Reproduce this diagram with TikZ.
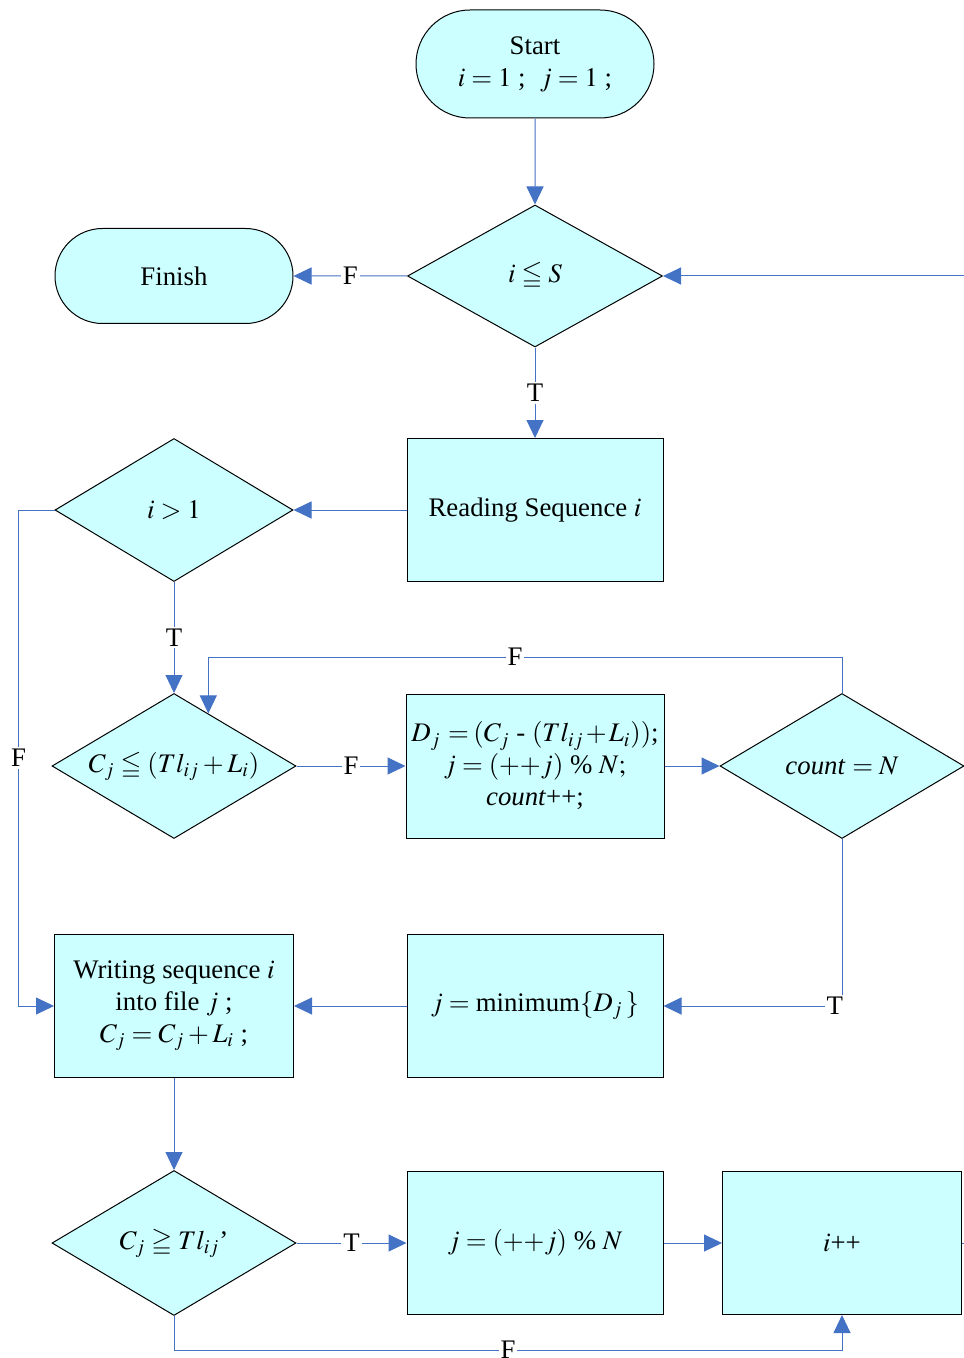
\documentclass[tikz,border=0pt]{standalone}
\usepackage{mathptmx}
\usepackage{amssymb}
\usepackage[no-math]{fontspec}
\setmainfont{Liberation Serif}
\usetikzlibrary{positioning, calc, shapes.geometric, shapes.misc, arrows.meta}
\definecolor{boxfill}{HTML}{CCFFFF}
\definecolor{linkblue}{HTML}{4472C4}
\tikzstyle{base} = [draw=black, line width=0.5pt, fill=boxfill, align=center, text centered,
 inner sep=0pt, font=\fontsize{13.4pt}{16pt}\selectfont]
\tikzstyle{terminal} = [base, rounded rectangle, minimum width=119pt]
\tikzstyle{decision} = [base, diamond, aspect=1.7, minimum width=122pt, minimum height=72.5pt]
\tikzstyle{process} = [base, rectangle, minimum width=128pt, minimum height=71.5pt]
\tikzstyle{arrow} = [draw=linkblue, line width=0.5pt, -{Triangle[length=9pt, width=8.5pt]}]
\tikzstyle{cond} = [fill=white, inner sep=1pt, font=\fontsize{13.4pt}{16pt}\selectfont]

\begin{document}
\begin{tikzpicture}[x=0.5pt, y=-0.5pt, node distance=2em, on grid]

\useasboundingbox (0,0) rectangle (963,1358);

\node (START) [terminal, minimum height=54pt] at (535,64) {Start\\$i = 1$ ;\; $j = 1$ ;};
\node (LEQS) [decision, minimum width=127.5pt, minimum height=71pt, below=106pt of START] {$i \leqq S$};
\node (FINISH) [terminal, minimum height=47.5pt, left=180.5pt of LEQS] {Finish};
\node (READ) [process, below=117pt of LEQS] {Reading Sequence $i$};
\node (IGT) [decision, minimum width=119pt, minimum height=71.5pt, left=180.5pt of READ] {$i > 1$};
\node (CLEQ) [decision, below=128pt of IGT] {$C_j \leqq (Tl_{ij} + L_i)$};
\node (DJ) [process, minimum width=129pt, minimum height=72pt, right=180.5pt of CLEQ]
    {\medmuskip=1.5mu \thickmuskip=3mu
     $D_j\,=(C_j$ - $(Tl_{ij} + L_i))$;\\$j = ({+}{+}j)$ \% $N;$\\\textit{count}++;};
\node (COUNT) [decision, right=153.5pt of DJ] {\textit{count} $= N$};
\node (WRITE) [process, minimum width=119.5pt, below=120pt of CLEQ]
    {Writing sequence $i$\\into file $j$ ;\\$C_j = C_j + L_i$ ;};
\node (JMIN) [process, right=180.5pt of WRITE] {$j = {}$minimum$\{D_j\,\}$};
\node (CGEQ) [decision, below=118.5pt of WRITE] {$C_j \geqq Tl_{ij}$’};
\node (JNEXT) [process, right=180.5pt of CGEQ] {$j = ({+}{+}j)$ \% $N$};
\node (INEXT) [process, minimum width=119.5pt, right=153.5pt of JNEXT] {$i$++};

\draw [arrow] (START) -- (LEQS);
\draw [arrow] (LEQS) -- node[cond]{F} (FINISH);
\draw [arrow] (LEQS) -- node[cond]{T} (READ);
\draw [arrow] (READ) -- (IGT);
\draw [arrow] (IGT) -- node[cond]{T} (CLEQ);
\draw [arrow] (IGT.west) -- ++(-18pt,0) |- node[cond, pos=0.25]{F} (WRITE.west);
\draw [arrow] (CLEQ) -- node[cond]{F} (DJ);
\draw [arrow] (DJ) -- (COUNT);
\draw [arrow] (COUNT.north) -- ++(0,18pt) -| node[cond, pos=0.258]{F}
    ($(CLEQ.north)!0.28!(CLEQ.east)$);
\draw [arrow] (COUNT.south) |- node[cond, pos=0.52]{T} (JMIN.east);
\draw [arrow] (JMIN) -- (WRITE);
\draw [arrow] (WRITE) -- (CGEQ);
\draw [arrow] (CGEQ) -- node[cond]{T} (JNEXT);
\draw [arrow] (JNEXT) -- (INEXT);
\draw [arrow] (CGEQ.south) -- ++(0,-17pt) -| node[cond, pos=0.25]{F} (INEXT.south);
\draw [arrow] (INEXT.east) -- ++(15pt,0) |- (LEQS.east);

\end{tikzpicture}
\end{document}
